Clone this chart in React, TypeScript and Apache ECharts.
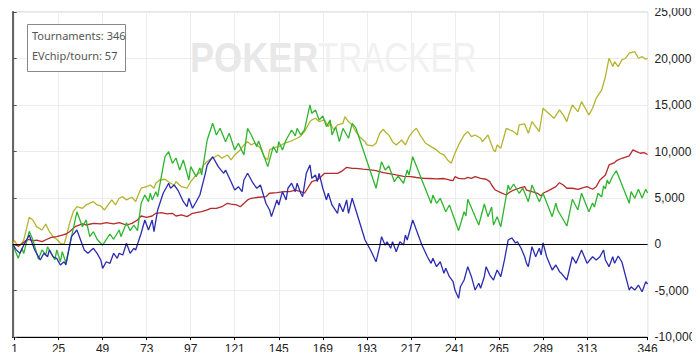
import React, { useEffect, useRef } from "react";
import * as echarts from "echarts";

// ---- data (tournament number, chips) ----
const xTickLabels = [1, 25, 49, 73, 97, 121, 145, 169, 193, 217, 241, 265, 289, 313, 346];
const tournaments = 346;
const evChipPerTourn = 57;
const yMin = -10000;
const yMax = 25000;
const yStep = 5000;

const greenSeries: number[][] = [[0,0],[3,-1500],[5,-400],[6,-1000],[9,1400],[11,500],[14,-1600],[16,-600],[18,-1150],[19,-260],[23,-1690],[24,-610],[26,-1880],[27,-800],[29,-1980],[35,3500],[38,1900],[40,2620],[42,820],[44,1360],[46,540],[49,-100],[53,1110],[55,540],[58,1540],[59,820],[62,2330],[64,1470],[66,2080],[68,1470],[70,4420],[72,5320],[74,4590],[75,5500],[76,4780],[78,5670],[79,5130],[83,9440],[85,9980],[87,8730],[89,9300],[91,8010],[93,9090],[96,6930],[97,8370],[100,7290],[102,8230],[103,7470],[106,11240],[109,13040],[111,11780],[113,12500],[116,11060],[118,11970],[121,10170],[123,10890],[126,9630],[128,12500],[130,11780],[133,10520],[134,11140],[139,8370],[142,10520],[144,9840],[145,11060],[147,10170],[149,11240],[152,12320],[154,11680],[155,12500],[157,11780],[159,12320],[162,15020],[163,14120],[165,14480],[167,13400],[169,13830],[171,12680],[173,13400],[174,11780],[176,12650],[178,11060],[180,12500],[183,11430],[185,13040],[187,12540],[198,6040],[201,8900],[203,8010],[205,8440],[208,6750],[210,7360],[213,6580],[215,8010],[216,7470],[218,9440],[228,4420],[229,5320],[231,4420],[233,4960],[236,3510],[238,4240],[243,1470],[246,3510],[247,3050],[248,4850],[254,2080],[257,4340],[259,2980],[261,4020],[262,2080],[264,2980],[266,1900],[270,6390],[271,5850],[273,6500],[276,5500],[278,6040],[281,4590],[283,6390],[287,4590],[289,5500],[294,2980],[296,4420],[297,3700],[302,1970],[305,4850],[308,3700],[310,5500],[314,3510],[316,4450],[317,4020],[319,5500],[321,5100],[322,6290],[323,5960],[324,6930],[325,6500],[327,7360],[329,7930],[336,4420],[337,5670],[339,4960],[341,5930],[343,4990],[345,5930],[346,5530]];

const blueSeries: number[][] = [[0,0],[2,-600],[4,-970],[6,-100],[9,1000],[10,460],[12,-610],[15,-1690],[17,-970],[19,-1340],[20,-610],[22,-1340],[24,-1510],[26,-2230],[28,-1880],[29,-2230],[32,820],[35,1540],[37,460],[39,-610],[41,-970],[44,-430],[46,-970],[48,-1690],[49,-2590],[51,-1880],[53,-2050],[55,-970],[57,-1510],[58,-970],[60,-1150],[62,110],[64,-970],[66,-430],[67,-610],[70,1190],[72,2620],[74,1540],[76,2620],[77,1360],[79,3700],[82,5500],[85,6580],[86,6040],[88,6390],[90,5850],[93,4590],[95,4050],[96,4960],[98,3880],[100,4590],[102,5310],[105,7650],[106,8550],[109,9440],[112,8370],[115,7650],[116,8010],[119,6750],[121,5850],[123,6210],[125,5670],[126,6930],[128,7650],[131,6580],[133,6040],[135,6390],[138,4420],[140,3700],[141,2980],[144,4780],[145,4240],[147,5670],[149,4780],[150,6040],[152,6580],[154,5670],[155,6580],[157,5500],[158,5130],[160,7650],[162,8550],[163,7110],[165,7470],[166,6750],[167,7650],[169,6040],[171,4780],[172,5500],[174,4240],[177,3340],[178,4420],[180,3510],[182,4780],[183,3340],[185,4960],[187,3700],[192,460],[195,-610],[198,-1880],[200,-260],[201,820],[203,-100],[204,280],[206,-430],[207,280],[209,-800],[211,280],[213,-75],[214,1000],[215,460],[218,2620],[220,1540],[223,-75],[226,-1340],[228,-2050],[229,-1510],[231,-2410],[233,-1880],[235,-3130],[236,-2590],[238,-3490],[240,-4030],[241,-4930],[243,-5820],[244,-4570],[246,-3850],[248,-2410],[250,-3490],[252,-4930],[254,-4200],[255,-4740],[257,-3490],[258,-2410],[260,-3310],[262,-3850],[264,-2770],[266,-3490],[268,-1690],[270,460],[272,680],[274,140],[275,280],[277,-400],[279,-1340],[280,-2050],[281,-2410],[283,-260],[285,-1340],[287,-430],[288,-1150],[289,170],[291,-1340],[294,-2770],[296,-2230],[298,-2950],[299,-3130],[302,-3850],[305,-1340],[307,-2050],[310,-610],[313,-2050],[316,-1340],[318,-1690],[320,-1340],[322,-610],[323,-1690],[325,-2410],[327,-1340],[328,-2050],[330,-1260],[332,-1910],[336,-4930],[337,-4570],[339,-4930],[341,-4390],[343,-5110],[345,-4030],[346,-4280]];

const yellowSeries: number[][] = [[0,0],[1,390],[3,-260],[5,140],[6,460],[9,2910],[11,2620],[13,1900],[16,1540],[18,2190],[20,1360],[22,820],[24,540],[26,110],[28,30],[29,650],[31,2260],[33,3510],[35,4050],[38,3880],[40,4240],[44,4590],[46,4240],[48,4130],[50,3700],[52,4240],[54,4780],[56,4240],[58,4960],[60,5130],[62,4780],[65,5070],[67,4590],[68,5130],[70,6040],[73,6210],[75,6390],[77,6040],[78,6580],[80,6930],[83,7010],[86,6580],[88,6390],[89,6750],[92,6210],[95,6040],[97,6750],[100,7470],[102,7720],[104,8550],[107,9090],[109,9270],[112,9630],[114,9270],[117,9630],[119,9090],[121,9630],[124,10170],[126,10710],[128,11060],[130,10710],[132,10920],[135,10350],[137,9440],[139,9090],[140,10170],[142,10380],[145,10520],[148,10890],[151,11060],[153,11240],[155,11430],[157,11670],[159,12140],[162,13220],[163,13400],[165,13580],[167,13220],[170,13400],[172,12680],[173,13080],[175,12320],[177,12860],[180,13040],[181,13760],[183,13220],[185,12860],[187,12140],[189,11600],[192,11060],[193,10710],[196,10600],[198,10890],[200,11970],[202,12400],[203,12110],[205,11780],[207,11060],[209,10710],[212,11240],[214,10710],[216,11600],[218,12140],[220,12500],[222,11780],[225,10890],[228,10520],[231,10170],[233,9810],[235,9630],[237,9090],[239,8730],[240,9270],[241,9810],[243,10710],[246,11780],[248,12140],[250,11600],[252,11780],[255,11430],[256,11060],[259,11780],[260,11240],[262,10170],[263,9980],[264,10700],[266,10350],[269,12500],[271,12320],[273,12140],[275,11780],[276,12860],[279,12970],[281,11970],[283,13220],[285,12680],[287,12140],[289,14660],[292,14120],[295,13580],[298,14480],[300,13940],[302,13220],[303,13940],[305,15020],[308,14290],[310,15370],[312,14660],[314,13940],[316,14660],[318,15740],[321,16630],[323,18070],[325,20050],[327,19150],[328,19680],[330,19150],[332,19870],[334,20050],[336,20590],[339,20760],[341,20050],[343,20220],[345,19940],[346,20030]];

const redSeries: number[][] = [[0,0],[3,-180],[5,30],[7,390],[9,540],[11,360],[13,460],[16,280],[19,570],[21,750],[24,820],[27,1000],[29,1110],[31,1360],[34,1900],[38,2190],[40,2080],[44,2260],[48,2190],[51,2330],[55,2190],[58,2330],[62,2080],[65,2260],[68,2620],[70,3050],[73,2910],[76,3050],[78,3340],[81,3410],[84,3270],[87,3340],[89,3050],[92,3160],[95,2980],[98,3340],[100,3410],[103,3510],[106,3700],[108,3880],[111,3880],[114,4050],[117,4420],[119,4340],[122,4240],[124,4050],[128,4780],[130,4960],[134,5070],[138,5130],[140,5500],[144,5560],[148,5670],[151,5670],[154,5850],[157,5670],[159,5500],[163,6750],[166,6930],[168,7290],[170,7650],[173,7650],[177,7650],[179,7830],[182,8300],[185,8190],[187,8190],[191,8090],[195,8010],[198,7930],[202,7720],[206,7580],[209,7470],[213,7330],[217,7290],[220,7200],[224,7110],[227,7090],[231,7040],[235,7090],[238,6930],[240,6850],[241,7290],[243,7110],[246,7040],[248,7220],[250,7110],[252,7290],[255,7110],[258,7010],[260,6750],[261,6390],[263,5850],[266,5560],[269,5310],[270,5500],[273,5850],[276,6040],[279,6210],[280,5850],[283,5670],[286,5500],[288,5210],[289,5500],[292,5780],[296,6210],[298,6640],[300,6390],[302,6040],[305,6040],[308,5930],[310,6040],[313,6210],[316,5930],[318,6210],[320,6930],[323,7470],[325,8550],[328,8800],[329,9010],[332,9270],[336,9520],[338,10170],[340,9980],[342,9810],[344,9870],[346,9680]];

const FONT = "'Liberation Sans', Arial, sans-serif";

export default function App() {
  const ref = useRef<HTMLDivElement>(null);

  useEffect(() => {
    if (!ref.current) return;
    const chart = echarts.init(ref.current, undefined, { renderer: "svg" });

    const line = (name: string, data: number[][], color: string, extra: any = {}) => ({
      name,
      type: "line",
      data,
      showSymbol: false,
      symbol: "none",
      lineStyle: { color, width: 1.3 },
      itemStyle: { color },
      emphasis: { disabled: true },
      ...extra,
    });

    chart.setOption({
      animation: false,
      grid: {
        left: 12.7,
        right: 52.4,
        top: 12.3,
        bottom: 22.9,
        show: true,
        borderColor: "#888",
        borderWidth: 1,
        backgroundColor: "transparent",
      },
      xAxis: {
        type: "value",
        min: 0,
        max: tournaments,
        axisLine: { onZero: false, lineStyle: { color: "#000", width: 1 } },
        axisTick: { customValues: xTickLabels, length: 3, lineStyle: { color: "#000" } },
        axisLabel: { customValues: xTickLabels, color: "#222", fontSize: 12, fontFamily: FONT, margin: 6 },
        splitLine: { show: true, lineStyle: { color: "#ececec", width: 1 } },
      },
      yAxis: [
        {
          type: "value",
          position: "right",
          min: yMin,
          max: yMax,
          interval: yStep,
          axisLine: { show: true, lineStyle: { color: "#555", width: 2 } },
          axisTick: { show: true, length: 4, lineStyle: { color: "#555" } },
          axisLabel: {
            color: "#222",
            fontSize: 12,
            fontFamily: FONT,
            margin: 7,
            formatter: (v: number) => v.toLocaleString("en-US"),
          },
          splitLine: { show: true, lineStyle: { color: "#ececec", width: 1 } },
        },
        {
          type: "value",
          position: "left",
          min: yMin,
          max: yMax,
          interval: yStep,
          axisLine: { show: true, lineStyle: { color: "#666", width: 2 } },
          axisTick: { show: false },
          axisLabel: { show: false },
          splitLine: { show: false },
        },
      ],
      graphic: [
        {
          type: "text",
          x: 190,
          y: 58,
          scaleX: 0.86,
          z: 1,
          silent: true,
          style: { text: "POKER", fontSize: 42, fontWeight: "bold", fontFamily: FONT, fill: "#e8e8e8", verticalAlign: "middle", align: "left" },
        },
        {
          type: "text",
          x: 318,
          y: 58,
          scaleX: 0.79,
          z: 1,
          silent: true,
          style: { text: "TRACKER", fontSize: 42, fontWeight: "normal", fontFamily: FONT, fill: "#f1f1f1", verticalAlign: "middle", align: "left" },
        },
        {
          type: "rect",
          z: 20,
          shape: { x: 27.5, y: 24.5, width: 98, height: 47 },
          style: { fill: "#fff", stroke: "#888", lineWidth: 1 },
        },
        {
          type: "text",
          x: 32,
          y: 35,
          z: 21,
          style: { text: `Tournaments: ${tournaments}`, fontSize: 11, fontFamily: "'Noto Sans', sans-serif", fill: "#555", verticalAlign: "middle", align: "left" },
        },
        {
          type: "text",
          x: 32,
          y: 55,
          z: 21,
          style: { text: `EVchip/tourn: ${evChipPerTourn}`, fontSize: 11, fontFamily: "'Noto Sans', sans-serif", fill: "#555", verticalAlign: "middle", align: "left" },
        },
      ],
      series: [
        line("Chips won", yellowSeries, "#b4b42e", {
          markLine: {
            silent: true,
            symbol: "none",
            label: { show: false },
            lineStyle: { color: "#000", width: 1, type: "solid" },
            data: [{ yAxis: 0 }],
          },
        }),
        line("EV chips", redSeries, "#b52a2a"),
        line("Green", greenSeries, "#2fb52f"),
        line("Blue", blueSeries, "#2c2cb0"),
      ],
    });

    return () => chart.dispose();
  }, []);

  return <div ref={ref} style={{ width: 700, height: 360, margin: -8 }} />;
}
